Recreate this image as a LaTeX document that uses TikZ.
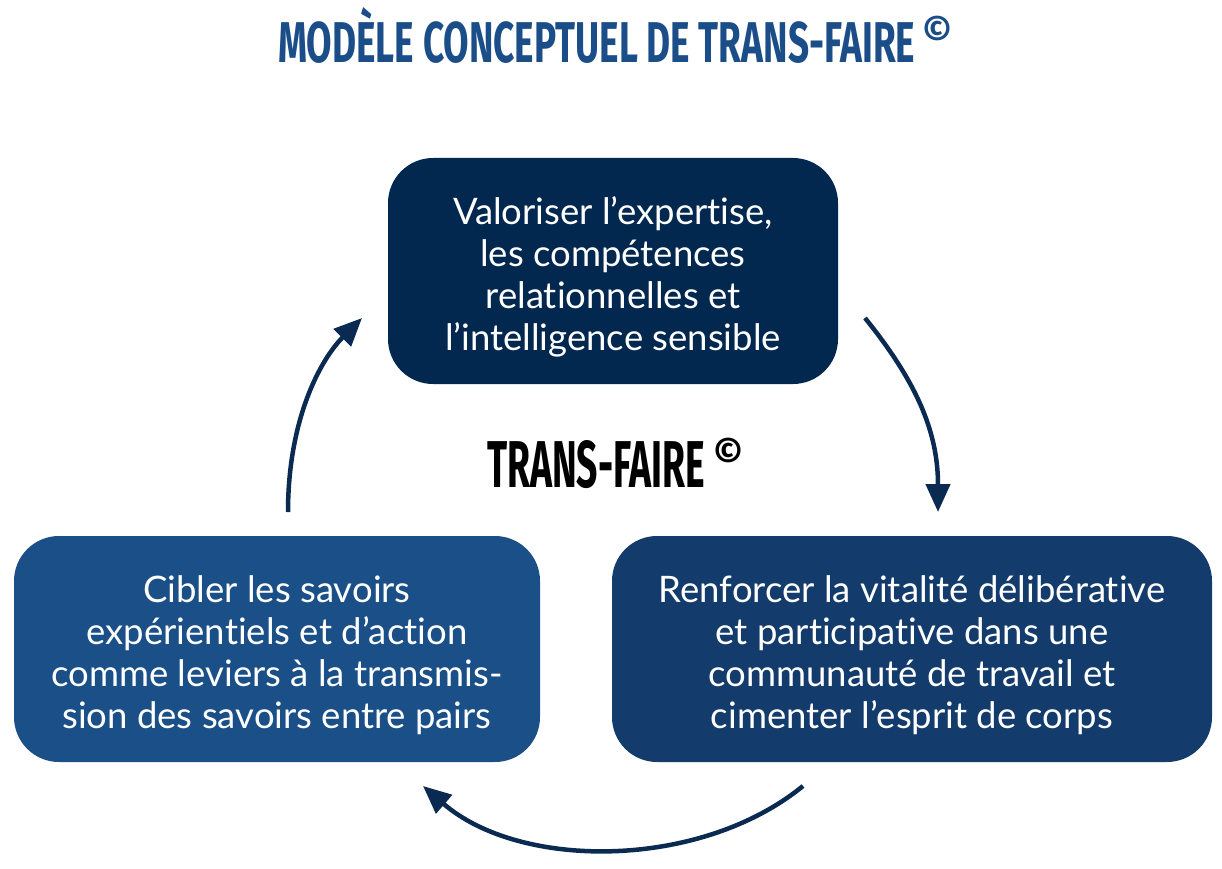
\documentclass[tikz,border=0pt]{standalone}
\usepackage{fontspec}
\setmainfont{Lato}[Ligatures={NoCommon}]
\newfontfamily\condfont{Fira Sans}[UprightFont=* Bold]
\usetikzlibrary{arrows.meta}
\definecolor{titlec}{HTML}{1B4E88}
\definecolor{topc}{HTML}{02284F}
\definecolor{rightc}{HTML}{133B6B}
\definecolor{leftc}{HTML}{1A4F88}
\definecolor{arrc}{HTML}{0A2A52}
\newcommand\firstline{\rule{0pt}{39pt}}
\tikzset{
  box/.style={rounded corners=45pt, text=white, align=center, inner sep=0pt,
    minimum height=226pt, font=\fontsize{36.5}{42}\selectfont},
  flow/.style={draw=arrc, line width=4.5pt, -{Triangle[length=28pt,width=24pt]}},
}
\begin{document}
\begin{tikzpicture}[x=1pt,y=-1pt]
\useasboundingbox (0,0) rectangle (1222,869);
% title
\node[anchor=base west, inner sep=0pt, text=titlec] (title) at (278,63)
  {\resizebox{637pt}{55pt}{\condfont MODÈLE CONCEPTUEL DE TRANS-FAIRE}};
\node[anchor=center, inner sep=0pt, text=titlec] (titlec) at (937,30)
  {\resizebox{30pt}{!}{\condfont ©}};
% boxes
\node[box, fill=topc, minimum width=450pt] (top) at (613,271)
  {\firstline Valoriser l’expertise,\\les compétences\\relationnelles et\\l’intelligence sensible};
\node[box, fill=leftc, minimum width=526pt] (left) at (277,649)
  {\firstline Cibler les savoirs\\expérientiels et d’action\\comme leviers à la transmis-\\sion des savoirs entre pairs};
\node[box, fill=rightc, minimum width=600pt] (right) at (912,649)
  {\firstline Renforcer la vitalité délibérative\\et participative dans une\\communauté de travail et\\cimenter l’esprit de corps};
% center label
\node[anchor=base west, inner sep=0pt, text=black] (center) at (487,487)
  {\resizebox{218pt}{47pt}{\condfont TRANS-FAIRE}};
\node[anchor=center, inner sep=0pt, text=black] (centerc) at (728,452)
  {\resizebox{30pt}{!}{\condfont ©}};
% arrows
\coordinate (r1) at (865,318);
\coordinate (r2) at (938,512);
\coordinate (b1) at (803,786);
\coordinate (b2) at (423,786);
\coordinate (l1) at (288,512);
\coordinate (l2) at (362,318);
\draw[flow] (r1) .. controls (915,380) and (938,430) .. (r2);
\draw[flow] (b1) .. controls (700,870) and (520,870) .. (b2);
\draw[flow] (l1) .. controls (288,420) and (320,360) .. (l2);
\end{tikzpicture}
\end{document}
